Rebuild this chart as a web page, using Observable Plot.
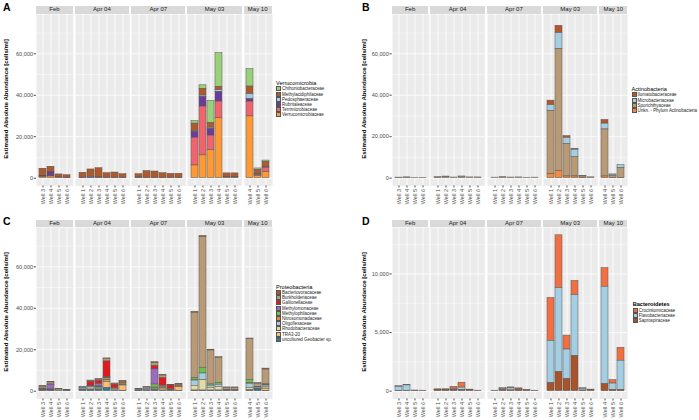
<!DOCTYPE html>
<html><head><meta charset="utf-8">
<script src="https://cdn.jsdelivr.net/npm/d3@7"></script>
<script src="https://cdn.jsdelivr.net/npm/@observablehq/plot@0.6"></script>
<style>
body{margin:0;background:#fff;}
#chart{position:relative;width:699px;height:420px;overflow:hidden;font-family:"Liberation Sans",Arial,sans-serif;background:#fff;}
.abs{position:absolute;}
.strip{background:#d9d9d9;color:#1a1a1a;font-size:6px;text-align:center;overflow:hidden;white-space:nowrap;}
.letter{font-weight:bold;font-size:10.5px;line-height:10px;color:#000;}
.ytitle{font-weight:bold;font-size:6.1px;color:#000;white-space:nowrap;transform:translate(-50%,-50%) rotate(-90deg);}
.ltitle{font-size:5.6px;color:#000;white-space:nowrap;line-height:6px;}
.lrow{display:flex;align-items:center;height:5.2px;}
.lkey{flex:none;width:5px;height:5px;box-sizing:border-box;border:0.4px solid #555;margin-right:1.1px;}
.ltext{flex:none;font-size:4.45px;color:#1a1a1a;white-space:nowrap;line-height:5px;}
svg{overflow:visible;}
</style></head><body><div id="chart"></div>
<script>
// ---- categories ----
const dates = ["Feb", "Apr 04", "Apr 07", "May 03", "May 10"];
const wellsFeb = ["Well 3", "Well 4", "Well 5", "Well 6"];
const wellsApr = ["Well 1", "Well 2", "Well 3", "Well 4", "Well 5", "Well 6"];
const wellsMay10 = ["Well 4", "Well 5", "Well 6"];
const facetWells = [wellsFeb, wellsApr, wellsApr, wellsApr, wellsMay10];

// ---- A: Verrucomicrobia (bar order: Feb W3-6, Apr04 W1-6, Apr07 W1-6, May03 W1-6, May10 W4-6) ----
const verrucoFamilies = ["Chthoniobacteraceae", "Methylacidiphilaceae", "Pedosphaeraceae", "Rubritaleaceae", "Terrimicrobiaceae", "Verrucomicrobiaceae"];
const verrucoColors = ["#9bd07a", "#b05a2c", "#a6cee3", "#6a3d9a", "#f0646e", "#fd9a35"];
const verrucoChthonio = [100,200,0,0, 0,0,0,0,100,0, 0,0,0,0,0,0, 1300,1900,10800,16300,0,0, 8400,700,700];
const verrucoMethyl = [3400,2200,1500,1200, 2400,3500,4500,2300,2500,1800, 1600,3300,3100,2300,2000,2000, 3700,3100,2300,1600,1900,1900, 3700,1900,2400];
const verrucoPedo = [100,300,0,0, 0,400,0,0,0,0, 0,0,0,0,0,0, 300,600,500,800,0,0, 2400,100,0];
const verrucoRubri = [300,1800,100,100, 200,300,300,100,100,100, 300,100,100,100,100,100, 2800,4700,3200,4700,200,200, 1200,400,400];
const verrucoTerri = [100,200,0,0, 0,0,0,0,0,0, 0,0,0,0,0,0, 13400,23500,7000,8000,0,0, 7100,600,2100];
const verrucoVerru = [500,800,200,100, 0,0,0,0,0,0, 0,0,0,0,0,0, 6100,11000,13500,28900,200,200, 29800,1000,2900];

// ---- B: Actinobacteria ----
const actinoFamilies = ["Ilumatobacteraceae", "Microbacteriaceae", "Sporichthyaceae", "Unkn. - Phylum Actinobacteria"];
const actinoColors = ["#b5572a", "#a6cee3", "#b89a77", "#f58b3d"];
const actinoIluma = [50,100,0,0, 100,50,0,0,0,0, 0,100,0,0,0,0, 2200,3500,900,500,0,0, 1800,100,0];
const actinoMicro = [0,0,0,0, 0,100,0,100,0,0, 0,0,0,0,0,0, 2800,7700,2800,3400,300,0, 2800,500,1300];
const actinoSpori = [200,250,200,200, 300,600,300,700,350,350, 250,300,300,350,200,250, 30500,58900,15800,9500,700,400, 22700,1100,4900];
const actinoUnkn = [0,0,0,0, 0,0,0,0,0,0, 0,0,0,0,0,0, 1900,3400,800,800,100,0, 800,100,100];

// ---- C: Proteobacteria ----
const proteoFamilies = ["Bacteriovoracaceae", "Burkholderiaceae", "Gallionellaceae", "Methylomonaceae", "Methylophilaceae", "Nitrosomonadaceae", "Oligoflexaceae", "Rhodobacteraceae", "TRA3-20", "uncultured Geobacter sp."];
const proteoColors = ["#a95a28", "#b89a77", "#e31a1c", "#9b6cc0", "#6fbf4c", "#e8873a", "#a6cee3", "#e3dba2", "#fdbf6f", "#2b7c9c"];
const proteoBacterio = [500,300,200,200, 100,300,400,300,200,200, 100,300,500,400,200,300, 500,500,400,300,300,300, 300,300,500];
const proteoBurk = [900,1000,600,300, 500,500,600,1200,400,600, 400,600,1500,1300,100,500, 31600,63100,16400,12200,1000,1100, 19600,1700,7100];
const proteoGallio = [200,100,0,0, 0,1800,1500,7600,1600,100, 0,0,1500,3500,1800,0, 0,0,0,0,0,0, 0,0,0];
const proteoMmon = [0,2300,0,0, 0,200,1000,200,0,0, 0,0,7300,0,0,0, 0,0,0,0,0,0, 0,0,0];
const proteoMphil = [100,100,0,0, 0,100,300,300,0,100, 0,0,1500,200,0,0, 1000,2800,600,800,0,0, 1600,100,300];
const proteoNitro = [100,100,0,0, 0,200,300,800,300,800, 0,0,300,700,300,500, 100,0,0,0,0,0, 300,100,300];
const proteoOligo = [200,100,0,0, 700,800,500,300,200,200, 300,700,300,300,0,100, 2500,3200,1000,1000,200,100, 2000,500,900];
const proteoRhodo = [300,200,200,0, 300,600,500,800,300,300, 100,200,500,300,200,200, 2300,5000,1300,1800,200,200, 1100,300,600];
const proteoTRA = [200,100,0,0, 200,300,400,2800,600,2500, 0,0,300,900,300,1800, 200,200,200,200,0,0, 400,100,1000];
const proteoGeob = [100,200,0,100, 300,300,400,1500,100,200, 100,200,300,300,100,100, 100,100,100,100,100,100, 100,800,200];

// ---- D: Bacteroidetes ----
const bacteroFamilies = ["Crocinitomicaceae", "Flavobacteriaceae", "Saprospiraceae"];
const bacteroColors = ["#f07044", "#a6cee3", "#a9532a"];
const bacteroCroci = [60,20,0,0, 20,10,160,420,10,0, 0,70,80,100,0,0, 3660,4500,1190,1200,50,0, 1600,290,1100];
const bacteroFlavo = [350,470,10,0, 10,20,80,220,20,0, 0,100,180,40,20,0, 3610,7180,2530,5220,150,10, 8300,550,2500];
const bacteroSapro = [20,20,40,40, 120,120,130,80,100,40, 40,80,60,100,80,40, 680,1620,1020,2980,50,120, 600,100,100];

// ---- y-axis ticks ----
const bigTicks = [0, 20000, 40000, 60000];
const bigMinor = [10000, 30000, 50000, 70000];
const smallTicks = [0, 5000, 10000];
const smallMinor = [2500, 7500, 12500];

const yTitle = "Estimated Absolute Abundance [cells/ml]";
const FONT = '"Liberation Sans", Arial, sans-serif';

// bar keys (date, well) in order
const barKeys = [];
dates.forEach((d, i) => facetWells[i].forEach(w => barKeys.push({date: d, well: w})));

function buildRows(families, series) {
  const rows = [];
  families.forEach((f, fi) => {
    series[fi].forEach((v, bi) => {
      if (v > 0) rows.push({date: barKeys[bi].date, well: barKeys[bi].well, family: f, value: v});
    });
  });
  return rows;
}

const root = document.getElementById("chart");
function el(parent, cls, css, text) {
  const e = document.createElement("div");
  if (cls) e.className = cls;
  Object.assign(e.style, css || {});
  if (text != null) e.textContent = text;
  parent.appendChild(e);
  return e;
}

function makePanel(cfg) {
  const wrap = el(root, "abs", {left: cfg.left + "px", top: cfg.top + "px", width: "349px", height: "210px"});
  el(wrap, "abs letter", {left: cfg.letterX + "px", top: "2px"}, cfg.letter);
  const stripH = 7.5, panelH = 171.5, mb = 22, unit = 8.76, gap = 2;
  el(wrap, "abs ytitle", {left: cfg.titleX + "px", top: (cfg.stripTop + stripH + panelH / 2 - 0.5) + "px"}, yTitle);
  const row = el(wrap, "abs", {left: "0px", top: cfg.stripTop + "px", display: "flex", alignItems: "flex-start"});
  const rows = buildRows(cfg.families, cfg.series);
  const order = cfg.families.slice().reverse();
  // y axis column
  const axCol = el(row, null, {width: cfg.axisW + "px", flex: "none"});
  el(axCol, null, {height: stripH + "px"});
  axCol.appendChild(Plot.plot({
    width: cfg.axisW, height: panelH + mb,
    marginTop: 0, marginBottom: mb, marginLeft: cfg.axisW, marginRight: 0,
    y: {domain: cfg.yDomain},
    style: {fontFamily: FONT, color: "#4d4d4d", background: "transparent", overflow: "visible"},
    marks: [Plot.axisY(cfg.ticks, {tickFormat: d3.format(","), tickSize: 2.2, tickPadding: 1.2, fontSize: 5.6, label: null})]
  }));
  dates.forEach((d, i) => {
    const wells = facetWells[i];
    const w = (wells.length + 0.2) * unit;
    const col = el(row, null, {width: w + "px", flex: "none", marginRight: (i < dates.length - 1 ? gap : 0) + "px"});
    el(col, "strip", {height: stripH + "px", lineHeight: stripH + "px"}, d);
    const data = rows.filter(r => r.date === d);
    col.appendChild(Plot.plot({
      width: w, height: panelH + mb,
      marginTop: 0, marginBottom: mb, marginLeft: 0, marginRight: 0,
      x: {domain: wells, paddingInner: 0.1, paddingOuter: 0.15, axis: null},
      y: {domain: cfg.yDomain, axis: null},
      color: {domain: cfg.families, range: cfg.colors},
      style: {fontFamily: FONT, color: "#4d4d4d", background: "transparent", overflow: "visible"},
      marks: [
        Plot.frame({fill: "#ebebeb", stroke: "none"}),
        Plot.gridY(cfg.minor, {stroke: "white", strokeOpacity: 1, strokeWidth: 0.4}),
        Plot.gridY(cfg.ticks, {stroke: "white", strokeOpacity: 1, strokeWidth: 0.8}),
        Plot.gridX(wells, {stroke: "white", strokeOpacity: 1, strokeWidth: 0.8}),
        Plot.barY(data, {x: "well", y: "value", fill: "family", z: "family", order: order, stroke: "#555", strokeWidth: 0.5}),
        Plot.axisX(wells, {tickRotate: -90, tickSize: 2, tickPadding: 1, fontSize: 5.6, label: null})
      ]
    }));
  });
  // legend
  const lg = el(wrap, "abs", {left: cfg.legendX + "px", top: (cfg.legendKeysTop - 6.3) + "px"});
  el(lg, "ltitle", {fontWeight: cfg.legendBold ? "bold" : "normal", height: "6.3px"}, cfg.legendTitle);
  cfg.families.forEach((f, i) => {
    const r = el(lg, "lrow");
    el(r, "lkey", {background: cfg.colors[i]});
    el(r, "ltext", null, f);
  });
}

makePanel({left: 0, top: 0, letter: "A", letterX: 3, titleX: 5, stripTop: 6, axisW: 36,
  families: verrucoFamilies, colors: verrucoColors,
  series: [verrucoChthonio, verrucoMethyl, verrucoPedo, verrucoRubri, verrucoTerri, verrucoVerru],
  yDomain: [-3760, 78960], ticks: bigTicks, minor: bigMinor,
  legendX: 276, legendKeysTop: 86.3, legendTitle: "Verrucomicrobia", legendBold: false});
makePanel({left: 350, top: 0, letter: "B", letterX: 12, titleX: 13, stripTop: 6, axisW: 41.7,
  families: actinoFamilies, colors: actinoColors,
  series: [actinoIluma, actinoMicro, actinoSpori, actinoUnkn],
  yDomain: [-3760, 78960], ticks: bigTicks, minor: bigMinor,
  legendX: 281.5, legendKeysTop: 92.3, legendTitle: "Actinobacteria", legendBold: false});
makePanel({left: 0, top: 213.5, letter: "C", letterX: 3, titleX: 5, stripTop: 6, axisW: 36,
  families: proteoFamilies, colors: proteoColors,
  series: [proteoBacterio, proteoBurk, proteoGallio, proteoMmon, proteoMphil, proteoNitro, proteoOligo, proteoRhodo, proteoTRA, proteoGeob],
  yDomain: [-3760, 78960], ticks: bigTicks, minor: bigMinor,
  legendX: 276, legendKeysTop: 76.5, legendTitle: "Proteobacteria", legendBold: false});
makePanel({left: 350, top: 213.5, letter: "D", letterX: 12, titleX: 13, stripTop: 6, axisW: 41.7,
  families: bacteroFamilies, colors: bacteroColors,
  series: [bacteroCroci, bacteroFlavo, bacteroSapro],
  yDomain: [-665, 13965], ticks: smallTicks, minor: smallMinor,
  legendX: 282.7, legendKeysTop: 94.2, legendTitle: "Bacteroidetes", legendBold: true});
</script></body></html>
